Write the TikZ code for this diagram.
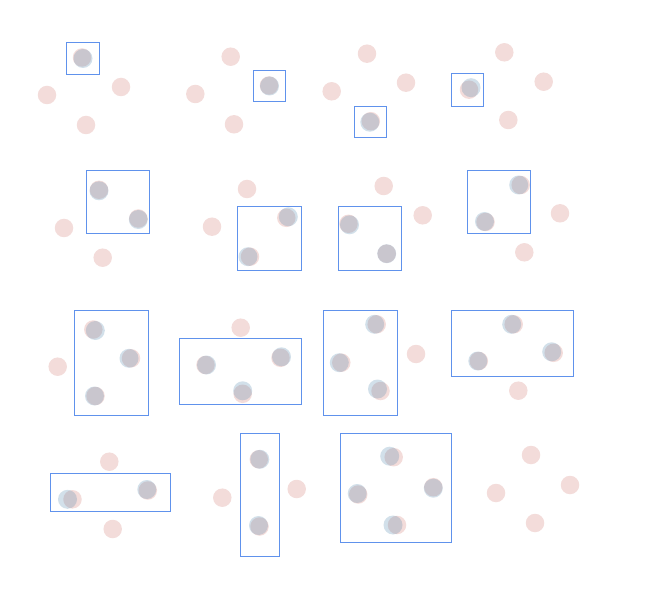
\documentclass[tikz,border=0pt]{standalone}
\usepackage{tikz}
\usepackage{xcolor}

\definecolor{dotpink}{RGB}{243,220,218}
\definecolor{dotblue}{RGB}{95,142,178}
\definecolor{boxblue}{RGB}{96,146,236}

\begin{document}
\begin{tikzpicture}[x=0.03cm,y=-0.03cm,
    pinkdot/.style={circle,fill=dotpink,inner sep=0pt,minimum size=18.5*0.03cm},
    bluedot/.style={circle,fill=dotblue,fill opacity=0.28,inner sep=0pt,minimum size=19*0.03cm},
    selbox/.style={draw=boxblue,line width=0.75pt}]
\useasboundingbox (0,0) rectangle (670,596);

% row 1
\node [pinkdot] (P1t) at (82,57.5) {};
\node [pinkdot] (P1l) at (47,95) {};
\node [pinkdot] (P1r) at (121,87) {};
\node [pinkdot] (P1b) at (86,125) {};
\node [bluedot] (B1t) at (83,58.5) {};
\draw [selbox] (66,42) rectangle (99,74);

\node [pinkdot] (P2t) at (230.7,56.7) {};
\node [pinkdot] (P2l) at (195.3,94) {};
\node [pinkdot] (P2r) at (269,85.5) {};
\node [pinkdot] (P2b) at (234,124.3) {};
\node [bluedot] (B2r) at (269.5,86) {};
\draw [selbox] (253.3,70) rectangle (285.7,101.7);

\node [pinkdot] (P3t) at (367,53.7) {};
\node [pinkdot] (P3l) at (331.7,91.3) {};
\node [pinkdot] (P3r) at (406,82.7) {};
\node [pinkdot] (P3b) at (370.8,121.2) {};
\node [bluedot] (B3b) at (369.8,122.2) {};
\draw [selbox] (354,106) rectangle (386.3,137.7);

\node [pinkdot] (P4t) at (504.3,52.3) {};
\node [pinkdot] (P4l) at (469,89.7) {};
\node [pinkdot] (P4r) at (543.7,81.7) {};
\node [pinkdot] (P4b) at (508.3,120) {};
\node [bluedot] (B4l) at (471,87.7) {};
\draw [selbox] (451.7,73.3) rectangle (483.3,106);

% row 2
\node [pinkdot] (P5t) at (99,189.8) {};
\node [pinkdot] (P5l) at (64,228) {};
\node [pinkdot] (P5r) at (138.3,218.5) {};
\node [pinkdot] (P5b) at (102.7,257.7) {};
\node [bluedot] (B5t) at (99,190.8) {};
\node [bluedot] (B5r) at (138.3,219.5) {};
\draw [selbox] (86,170.7) rectangle (149.3,233.3);

\node [pinkdot] (P6t) at (247,189) {};
\node [pinkdot] (P6l) at (212,226.7) {};
\node [pinkdot] (P6r) at (286.3,217.8) {};
\node [pinkdot] (P6b) at (250,256.7) {};
\node [bluedot] (B6r) at (288.3,216.8) {};
\node [bluedot] (B6b) at (248,256.7) {};
\draw [selbox] (237.7,206.7) rectangle (301,270);

\node [pinkdot] (P7t) at (383.7,186) {};
\node [pinkdot] (P7l) at (348.5,223.8) {};
\node [pinkdot] (P7r) at (422.7,215.3) {};
\node [pinkdot] (P7b) at (386.7,253.7) {};
\node [bluedot] (B7l) at (349.5,224.8) {};
\node [bluedot] (B7b) at (386.7,253.7) {};
\draw [selbox] (338.3,206.7) rectangle (401.7,270);

\node [pinkdot] (P8t) at (520.7,185) {};
\node [pinkdot] (P8l) at (485.5,222) {};
\node [pinkdot] (P8r) at (560,213.3) {};
\node [pinkdot] (P8b) at (524.3,252.3) {};
\node [bluedot] (B8t) at (518.7,185) {};
\node [bluedot] (B8l) at (484.5,221.5) {};
\draw [selbox] (467.3,170.7) rectangle (530.7,233.3);

% row 3
\node [pinkdot] (P9t) at (93.3,329.5) {};
\node [pinkdot] (P9l) at (57.7,366.7) {};
\node [pinkdot] (P9r) at (131,358.3) {};
\node [pinkdot] (P9b) at (95.5,396) {};
\node [bluedot] (B9t) at (95.3,330.5) {};
\node [bluedot] (B9r) at (129,358.3) {};
\node [bluedot] (B9b) at (94.5,396) {};
\draw [selbox] (74,310) rectangle (148.7,415.7);

\node [pinkdot] (P10t) at (240.7,327.7) {};
\node [pinkdot] (P10l) at (205.5,365) {};
\node [pinkdot] (P10r) at (280.5,357.8) {};
\node [pinkdot] (P10b) at (242.7,393.8) {};
\node [bluedot] (B10l) at (206.5,365) {};
\node [bluedot] (B10r) at (281.5,356.8) {};
\node [bluedot] (B10b) at (242.7,390.8) {};
\draw [selbox] (179.3,338.3) rectangle (301,404);

\node [pinkdot] (P11t) at (376.7,324.3) {};
\node [pinkdot] (P11l) at (341.3,362.7) {};
\node [pinkdot] (P11r) at (416,354) {};
\node [pinkdot] (P11b) at (380.5,391) {};
\node [bluedot] (B11t) at (374.7,324.3) {};
\node [bluedot] (B11l) at (339.3,362.7) {};
\node [bluedot] (B11b) at (377.5,389) {};
\draw [selbox] (323.3,310) rectangle (397.3,415.7);

\node [pinkdot] (P12t) at (513.7,324.3) {};
\node [pinkdot] (P12l) at (478.8,361) {};
\node [pinkdot] (P12r) at (553.7,352.8) {};
\node [pinkdot] (P12b) at (518.3,390.7) {};
\node [bluedot] (B12t) at (511.7,324.3) {};
\node [bluedot] (B12l) at (477.8,361) {};
\node [bluedot] (B12r) at (551.7,351.8) {};
\draw [selbox] (451.7,310) rectangle (573.3,376);

% row 4
\node [pinkdot] (P13t) at (109.3,461.7) {};
\node [pinkdot] (P13l) at (72.5,499.3) {};
\node [pinkdot] (P13r) at (147.8,490.5) {};
\node [pinkdot] (P13b) at (112.7,529) {};
\node [bluedot] (B13l) at (67.5,499.3) {};
\node [bluedot] (B13r) at (146.8,489.5) {};
\draw [selbox] (50,473.3) rectangle (170.7,511.7);

\node [pinkdot] (P14t) at (258.8,459.3) {};
\node [pinkdot] (P14l) at (222.3,497.7) {};
\node [pinkdot] (P14r) at (296.7,489) {};
\node [pinkdot] (P14b) at (259.5,526.5) {};
\node [bluedot] (B14t) at (259.8,459.3) {};
\node [bluedot] (B14b) at (258.5,525.5) {};
\draw [selbox] (240,433.3) rectangle (279,556);

\node [pinkdot] (P15t) at (393.7,457.2) {};
\node [pinkdot] (P15l) at (358.2,494.5) {};
\node [pinkdot] (P15r) at (433.3,487.2) {};
\node [pinkdot] (P15b) at (397,525) {};
\node [bluedot] (B15t) at (389.7,456.2) {};
\node [bluedot] (B15l) at (357.2,493.5) {};
\node [bluedot] (B15r) at (433.3,488.2) {};
\node [bluedot] (B15b) at (393,525) {};
\draw [selbox] (340.7,433.3) rectangle (451.7,542.3);

\node [pinkdot] (P16t) at (531,455) {};
\node [pinkdot] (P16l) at (496,493) {};
\node [pinkdot] (P16r) at (570,485) {};
\node [pinkdot] (P16b) at (535,523) {};
\end{tikzpicture}
\end{document}
